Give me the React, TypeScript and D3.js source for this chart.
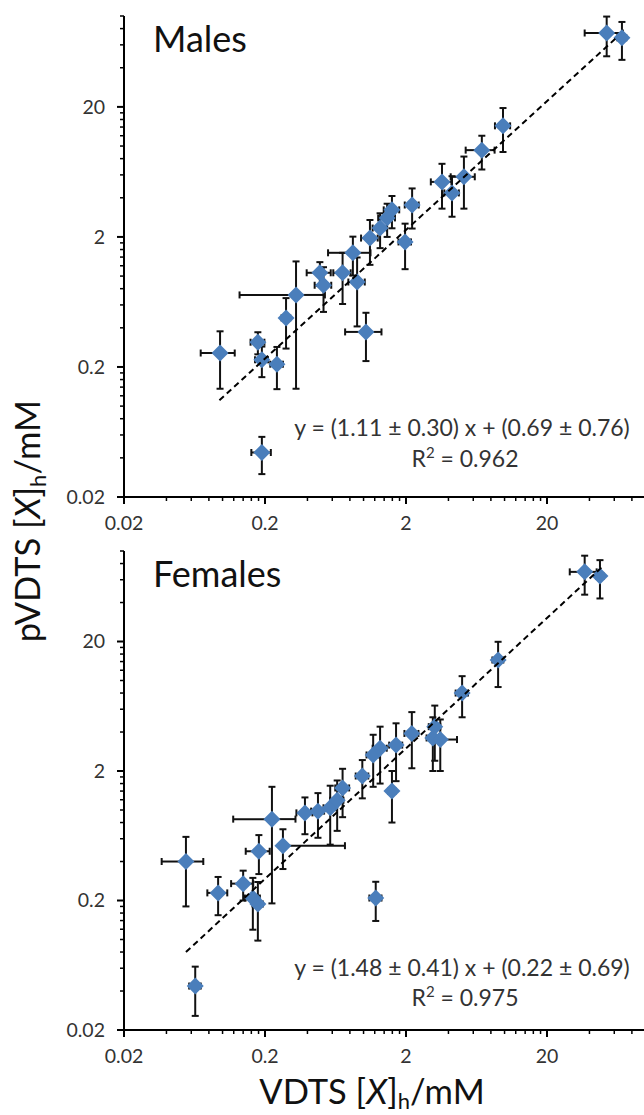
import React from "react";
import * as d3 from "d3";

// ---------- DATA ----------
const maleX = [0.096, 0.178, 0.19, 0.243, 0.282, 0.332, 0.49, 0.52, 0.71, 0.9, 0.84, 1.04, 1.11, 1.31, 1.47, 1.59, 2.21, 1.97, 3.6, 4.24, 5.15, 6.9, 9.75, 53, 68, 0.19];
const maleY = [0.256, 0.31, 0.227, 0.21, 0.477, 0.716, 1.06, 0.85, 1.06, 0.9, 1.51, 0.372, 1.96, 2.34, 2.8, 3.23, 3.52, 1.83, 5.3, 4.36, 5.8, 9.3, 14.3, 74, 68, 0.044];
const maleXErr = [0.026, 0.02, 0.02, 0.025, 0.02, 0.2, 0.095, 0.07, 0.1, 0.12, 0.28, 0.3, 0.15, 0.15, 0.2, 0.2, 0.25, 0.2, 0.6, 0.5, 1.0, 1.6, 1.2, 16, 5, 0.03];
const maleYErr = [0.12, 0.06, 0.06, 0.075, 0.2, 0.58, 0.22, 0.32, 0.45, 0.49, 0.5, 0.15, 0.74, 0.7, 0.8, 0.9, 1.2, 0.7, 2.0, 1.5, 2.5, 2.7, 5.3, 25, 22, 0.014];
const maleFitX = [0.095, 64];
const maleFitY = [0.111, 70];

const femaleX = [0.055, 0.093, 0.14, 0.164, 0.178, 0.181, 0.224, 0.268, 0.384, 0.475, 0.58, 0.65, 0.71, 0.98, 1.17, 1.31, 1.7, 2.2, 1.59, 3.2, 3.1, 3.5, 1.22, 0.064, 5.0, 9.0, 37, 47.5];
const femaleY = [0.4, 0.229, 0.27, 0.209, 0.188, 0.48, 0.85, 0.53, 0.95, 0.98, 1.04, 1.19, 1.48, 1.83, 2.66, 3.0, 3.17, 3.9, 1.4, 4.4, 3.6, 3.5, 0.209, 0.0437, 8.0, 14.4, 69, 64];
const femaleXErrMinus = [0.018, 0.015, 0.025, 0.02, 0.015, 0.035, 0.105, 0, 0.05, 0.05, 0.06, 0.07, 0.08, 0.1, 0.12, 0.15, 0.18, 0.25, 0.1, 0.3, 0.3, 0.3, 0.12, 0.006, 0.5, 0.8, 8, 3];
const femaleXErrPlus = [0.018, 0.015, 0.025, 0.02, 0.015, 0.035, 0.105, 0.47, 0.05, 0.05, 0.06, 0.07, 0.08, 0.1, 0.12, 0.15, 0.18, 0.25, 0.1, 0.3, 0.3, 1.1, 0.12, 0.006, 0.5, 0.8, 8, 3];
const femaleYErr = [0.22, 0.075, 0.07, 0.09, 0.09, 0.16, 0.66, 0.18, 0.3, 0.37, 0.5, 0.5, 0.6, 0.6, 1.15, 1.4, 1.5, 1.8, 0.6, 2.0, 1.6, 1.5, 0.07, 0.018, 2.8, 5.5, 23, 21];
const femaleFitX = [0.055, 49];
const femaleFitY = [0.08, 75];

const majorTicks = [0.02, 0.2, 2, 20];
const majorTickLabels = ["0.02", "0.2", "2", "20"];
const axisDomain = [0.02, 100];

const FONT = "Lato, 'Open Sans', sans-serif";
const BLUE = "#4a7ebb";

function minorTicks(): number[] {
  const out: number[] = [];
  for (let d = 0.02; d < 100; d *= 10) {
    for (let k = 2; k <= 9; k++) {
      const v = d * k;
      if (v <= 100.0001) out.push(v);
    }
  }
  return out;
}

type PanelProps = {
  top: number;
  bottom: number;
  title: string;
  xs: number[];
  ys: number[];
  xErrMinus: number[];
  xErrPlus: number[];
  yErr: number[];
  fitX: number[];
  fitY: number[];
  eq: string;
  r2: string;
  eqY: number;
  r2Y: number;
};

function Panel(p: PanelProps) {
  const x = d3.scaleLog().domain(axisDomain).range([124, 124 + 141 * Math.log10(5000)]);
  const y = d3.scaleLog().domain(axisDomain).range([p.bottom, p.top]);
  const minors = minorTicks();
  const cap = 3.5;
  const s = 8.5;
  const line = d3
    .line<number>()
    .x((_, i) => x(p.fitX[i]))
    .y((_, i) => y(p.fitY[i]));
  return (
    <g>
      <line x1={124} x2={124} y1={p.top} y2={p.bottom} stroke="#000" strokeWidth={2} />
      <line x1={124} x2={650} y1={p.bottom} y2={p.bottom} stroke="#000" strokeWidth={2} />
      {minors.map((v, i) => (
        <g key={"m" + i}>
          <line x1={120} x2={124} y1={y(v)} y2={y(v)} stroke="#000" strokeWidth={1.5} />
          <line x1={x(v)} x2={x(v)} y1={p.bottom} y2={p.bottom + 4} stroke="#000" strokeWidth={1.5} />
        </g>
      ))}
      {majorTicks.map((v, i) => (
        <g key={"M" + i}>
          <line x1={117} x2={124} y1={y(v)} y2={y(v)} stroke="#000" strokeWidth={2} />
          <line x1={x(v)} x2={x(v)} y1={p.bottom} y2={p.bottom + 7} stroke="#000" strokeWidth={2} />
          <text x={105} y={y(v)} dy="0.35em" textAnchor="end" fontSize={19.5} fill="#333" fontFamily={FONT}>
            {majorTickLabels[i]}
          </text>
          <text x={x(v)} y={p.bottom + 33} textAnchor="middle" fontSize={19.5} fill="#333" fontFamily={FONT}>
            {majorTickLabels[i]}
          </text>
        </g>
      ))}
      {p.xs.map((xv, i) => {
        const yv = p.ys[i];
        const cx = x(xv);
        const cy = y(yv);
        const yt = y(yv + p.yErr[i]);
        const yb = yv - p.yErr[i] > 0 ? y(yv - p.yErr[i]) : p.bottom;
        const xl = p.xErrMinus[i] > 0 && xv - p.xErrMinus[i] > 0 ? x(xv - p.xErrMinus[i]) : null;
        const xr = p.xErrPlus[i] > 0 ? x(xv + p.xErrPlus[i]) : null;
        return (
          <g key={"e" + i} stroke="#111" strokeWidth={2}>
            <line x1={cx} x2={cx} y1={yt} y2={yb} />
            <line x1={cx - cap} x2={cx + cap} y1={yt} y2={yt} />
            <line x1={cx - cap} x2={cx + cap} y1={yb} y2={yb} />
            {xl !== null && (
              <>
                <line x1={xl} x2={cx} y1={cy} y2={cy} />
                <line x1={xl} x2={xl} y1={cy - cap} y2={cy + cap} />
              </>
            )}
            {xr !== null && (
              <>
                <line x1={cx} x2={xr} y1={cy} y2={cy} />
                <line x1={xr} x2={xr} y1={cy - cap} y2={cy + cap} />
              </>
            )}
          </g>
        );
      })}
      {p.xs.map((xv, i) => {
        const cx = x(xv);
        const cy = y(p.ys[i]);
        return (
          <path
            key={"d" + i}
            d={`M${cx},${cy - s}L${cx + s},${cy}L${cx},${cy + s}L${cx - s},${cy}Z`}
            fill={BLUE}
          />
        );
      })}
      <path d={line(p.fitX) || ""} fill="none" stroke="#000" strokeWidth={2} strokeDasharray="6,4" />
      <text x={153} y={p.top + 36} fontSize={36} fill="#111" fontFamily={FONT}>
        {p.title}
      </text>
      <text x={462} y={p.eqY} textAnchor="middle" fontSize={23} fill="#333" fontFamily={FONT}>
        {p.eq}
      </text>
      <text x={465} y={p.r2Y} textAnchor="middle" fontSize={23} fill="#333" fontFamily={FONT}>
        R<tspan dy="-9" fontSize={15}>2</tspan>
        <tspan dy="9"> = {p.r2}</tspan>
      </text>
    </g>
  );
}

export default function App() {
  return (
    <svg
      width={644}
      height={1115}
      style={{ position: "absolute", left: 0, top: 0, background: "#fff" }}
    >
      <rect width={644} height={1115} fill="#fff" />
      <Panel
        top={16}
        bottom={497}
        title="Males"
        xs={maleX}
        ys={maleY}
        xErrMinus={maleXErr}
        xErrPlus={maleXErr}
        yErr={maleYErr}
        fitX={maleFitX}
        fitY={maleFitY}
        eq="y = (1.11 ± 0.30) x + (0.69 ± 0.76)"
        r2="0.962"
        eqY={436}
        r2Y={467}
      />
      <Panel
        top={551}
        bottom={1030}
        title="Females"
        xs={femaleX}
        ys={femaleY}
        xErrMinus={femaleXErrMinus}
        xErrPlus={femaleXErrPlus}
        yErr={femaleYErr}
        fitX={femaleFitX}
        fitY={femaleFitY}
        eq="y = (1.48 ± 0.41) x + (0.22 ± 0.69)"
        r2="0.975"
        eqY={976}
        r2Y={1006}
      />
      <text
        transform="translate(40,521) rotate(-90)"
        textAnchor="middle"
        fontSize={34.5}
        fill="#111"
        fontFamily={FONT}
      >
        pVDTS [<tspan fontStyle="italic">X</tspan>]<tspan dy="6" fontSize={22}>h</tspan>
        <tspan dy="-6">/mM</tspan>
      </text>
      <text x={372} y={1104} textAnchor="middle" fontSize={34.5} fill="#111" fontFamily={FONT}>
        VDTS [<tspan fontStyle="italic">X</tspan>]<tspan dy="5" fontSize={22}>h</tspan>
        <tspan dy="-5">/mM</tspan>
      </text>
    </svg>
  );
}
